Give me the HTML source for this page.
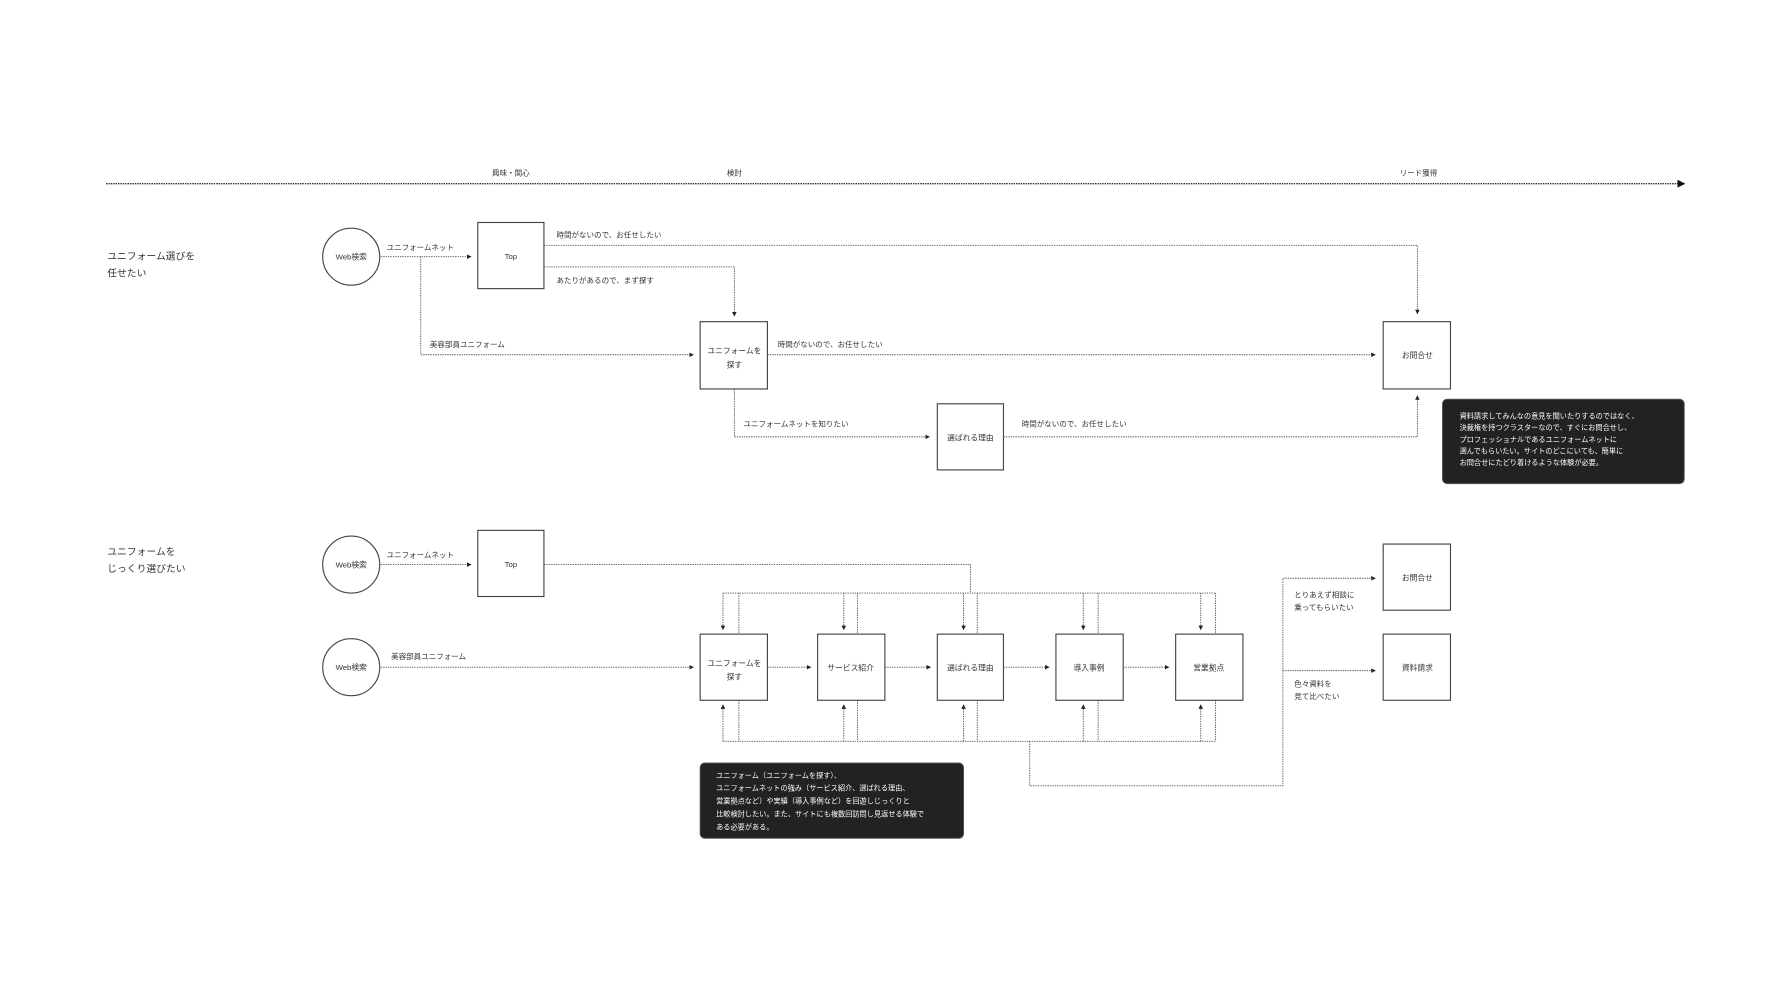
<!DOCTYPE html>
<html><head><meta charset="utf-8">
<style>
html,body{margin:0;padding:0;background:#fff;}
svg{display:block;}
text{font-family:"Liberation Sans","Noto Sans CJK JP",sans-serif;fill:#333;}
.l{font-size:6.6px;}
.b{font-size:6.8px;}
.h{font-size:8.6px;}
.w{font-size:6.3px;fill:#fff;}
.d{fill:none;stroke:#555;stroke-width:0.8;stroke-dasharray:1.2 0.9;}
.box{fill:#fff;stroke:#444;stroke-width:1;}
</style></head>
<body>
<svg width="1788" height="1006" viewBox="0 0 1568 882" xmlns="http://www.w3.org/2000/svg">
<defs>
<marker id="a" markerWidth="4" markerHeight="4" refX="3.5" refY="2" orient="auto" markerUnits="userSpaceOnUse">
<path d="M0,0 L4,2 L0,4 Z" fill="#222"/></marker>
<marker id="A" markerWidth="7" markerHeight="7" refX="6" refY="3.5" orient="auto" markerUnits="userSpaceOnUse">
<path d="M0,0 L7,3.5 L0,7 Z" fill="#111"/></marker>
</defs>

<!-- timeline -->
<line x1="93" y1="161" x2="1477" y2="161" stroke="#222" stroke-width="1.2" stroke-dasharray="1.2 0.9" marker-end="url(#A)"/>
<text class="l" x="448" y="154" text-anchor="middle">興味・関心</text>
<text class="l" x="644" y="154" text-anchor="middle">検討</text>
<text class="l" x="1244" y="154" text-anchor="middle">リード獲得</text>

<!-- Row 1 -->
<text class="h" x="94" y="227.5">ユニフォーム選びを</text>
<text class="h" x="94" y="242.5">任せたい</text>

<circle cx="308" cy="225" r="25" class="box"/>
<text class="b" x="308" y="227.5" text-anchor="middle">Web検索</text>
<text class="l" x="339" y="219">ユニフォームネット</text>
<line class="d" x1="334" y1="225" x2="413" y2="225" marker-end="url(#a)"/>

<rect x="419" y="195" width="58" height="58" class="box"/>
<text class="b" x="448" y="227" text-anchor="middle">Top</text>

<polyline class="d" points="477,215 1243,215 1243,275" marker-end="url(#a)"/>
<text class="l" x="488" y="208">時間がないので、お任せしたい</text>
<polyline class="d" points="477,234 644,234 644,277" marker-end="url(#a)"/>
<text class="l" x="488" y="248">あたりがあるので、まず探す</text>

<polyline class="d" points="369,225 369,311 608,311" marker-end="url(#a)"/>
<text class="l" x="377" y="304">美容部員ユニフォーム</text>

<rect x="614" y="282" width="59" height="59" class="box"/>
<text class="b" x="644" y="310" text-anchor="middle">ユニフォームを</text>
<text class="b" x="644" y="322" text-anchor="middle">探す</text>

<line class="d" x1="673" y1="311" x2="1206" y2="311" marker-end="url(#a)"/>
<text class="l" x="682" y="304">時間がないので、お任せしたい</text>

<rect x="1213" y="282" width="59" height="59" class="box"/>
<text class="b" x="1243" y="314" text-anchor="middle">お問合せ</text>

<polyline class="d" points="644,341 644,383 815,383" marker-end="url(#a)"/>
<text class="l" x="652" y="374">ユニフォームネットを知りたい</text>

<rect x="822" y="354" width="58" height="58" class="box"/>
<text class="b" x="851" y="386" text-anchor="middle">選ばれる理由</text>

<polyline class="d" points="880,383 1243,383 1243,347" marker-end="url(#a)"/>
<text class="l" x="896" y="374">時間がないので、お任せしたい</text>

<rect x="1265" y="350" width="212" height="74" rx="4" fill="#222" stroke="#555" stroke-width="0.8"/>
<text class="w" x="1280" y="367">資料請求してみんなの意見を聞いたりするのではなく、</text>
<text class="w" x="1280" y="377">決裁権を持つクラスターなので、すぐにお問合せし、</text>
<text class="w" x="1280" y="387.5">プロフェッショナルであるユニフォームネットに</text>
<text class="w" x="1280" y="397.5">選んでもらいたい。サイトのどこにいても、簡単に</text>
<text class="w" x="1280" y="407.5">お問合せにたどり着けるような体験が必要。</text>

<!-- Row 2 -->
<text class="h" x="94" y="486.5">ユニフォームを</text>
<text class="h" x="94" y="501.5">じっくり選びたい</text>

<circle cx="308" cy="495" r="25" class="box"/>
<text class="b" x="308" y="497.5" text-anchor="middle">Web検索</text>
<text class="l" x="339" y="489">ユニフォームネット</text>
<line class="d" x1="334" y1="495" x2="413" y2="495" marker-end="url(#a)"/>

<rect x="419" y="465" width="58" height="58" class="box"/>
<text class="b" x="448" y="497" text-anchor="middle">Top</text>
<polyline class="d" points="477,495 851,495 851,520"/>

<circle cx="308" cy="585" r="25" class="box"/>
<text class="b" x="308" y="587.5" text-anchor="middle">Web検索</text>
<text class="l" x="343" y="578">美容部員ユニフォーム</text>
<line class="d" x1="334" y1="585" x2="608" y2="585" marker-end="url(#a)"/>

<!-- buses -->
<line class="d" x1="634" y1="520" x2="1066" y2="520"/>
<line class="d" x1="634" y1="650" x2="1066" y2="650"/>

<!-- box verticals -->
<line class="d" x1="634" y1="520" x2="634" y2="552" marker-end="url(#a)"/>
<line class="d" x1="648" y1="520" x2="648" y2="556"/>
<line class="d" x1="634" y1="650" x2="634" y2="618" marker-end="url(#a)"/>
<line class="d" x1="648" y1="614" x2="648" y2="650"/>

<line class="d" x1="740" y1="520" x2="740" y2="552" marker-end="url(#a)"/>
<line class="d" x1="752" y1="520" x2="752" y2="556"/>
<line class="d" x1="740" y1="650" x2="740" y2="618" marker-end="url(#a)"/>
<line class="d" x1="752" y1="614" x2="752" y2="650"/>

<line class="d" x1="845" y1="520" x2="845" y2="552" marker-end="url(#a)"/>
<line class="d" x1="857" y1="520" x2="857" y2="556"/>
<line class="d" x1="845" y1="650" x2="845" y2="618" marker-end="url(#a)"/>
<line class="d" x1="857" y1="614" x2="857" y2="650"/>

<line class="d" x1="950" y1="520" x2="950" y2="552" marker-end="url(#a)"/>
<line class="d" x1="963" y1="520" x2="963" y2="556"/>
<line class="d" x1="950" y1="650" x2="950" y2="618" marker-end="url(#a)"/>
<line class="d" x1="963" y1="614" x2="963" y2="650"/>

<line class="d" x1="1053" y1="520" x2="1053" y2="552" marker-end="url(#a)"/>
<line class="d" x1="1066" y1="520" x2="1066" y2="556"/>
<line class="d" x1="1053" y1="650" x2="1053" y2="618" marker-end="url(#a)"/>
<line class="d" x1="1066" y1="614" x2="1066" y2="650"/>

<!-- row boxes -->
<rect x="614" y="556" width="59" height="58" class="box"/>
<text class="b" x="644" y="584" text-anchor="middle">ユニフォームを</text>
<text class="b" x="644" y="596" text-anchor="middle">探す</text>
<rect x="717" y="556" width="59" height="58" class="box"/>
<text class="b" x="746" y="588" text-anchor="middle">サービス紹介</text>
<rect x="822" y="556" width="58" height="58" class="box"/>
<text class="b" x="851" y="588" text-anchor="middle">選ばれる理由</text>
<rect x="926" y="556" width="59" height="58" class="box"/>
<text class="b" x="955" y="588" text-anchor="middle">導入事例</text>
<rect x="1031" y="556" width="59" height="58" class="box"/>
<text class="b" x="1060" y="588" text-anchor="middle">営業拠点</text>

<line class="d" x1="673" y1="585" x2="711" y2="585" marker-end="url(#a)"/>
<line class="d" x1="776" y1="585" x2="816" y2="585" marker-end="url(#a)"/>
<line class="d" x1="880" y1="585" x2="920" y2="585" marker-end="url(#a)"/>
<line class="d" x1="985" y1="585" x2="1025" y2="585" marker-end="url(#a)"/>

<!-- exit path -->
<polyline class="d" points="903,650 903,689 1125,689 1125,507 1206,507" marker-end="url(#a)"/>
<line class="d" x1="1125" y1="588" x2="1206" y2="588" marker-end="url(#a)"/>
<text class="l" x="1135" y="524">とりあえず相談に</text>
<text class="l" x="1135" y="535">乗ってもらいたい</text>
<text class="l" x="1135" y="602">色々資料を</text>
<text class="l" x="1135" y="613">見て比べたい</text>

<rect x="1213" y="477" width="59" height="58" class="box"/>
<text class="b" x="1243" y="509" text-anchor="middle">お問合せ</text>
<rect x="1213" y="556" width="59" height="58" class="box"/>
<text class="b" x="1243" y="588" text-anchor="middle">資料請求</text>

<rect x="614" y="669" width="231" height="66" rx="4" fill="#222" stroke="#555" stroke-width="0.8"/>
<text class="w" x="628" y="682">ユニフォーム（ユニフォームを探す）、</text>
<text class="w" x="628" y="693">ユニフォームネットの強み（サービス紹介、選ばれる理由、</text>
<text class="w" x="628" y="704.5">営業拠点など）や実績（導入事例など）を回遊しじっくりと</text>
<text class="w" x="628" y="716">比較検討したい。また、サイトにも複数回訪問し見返せる体験で</text>
<text class="w" x="628" y="727.5">ある必要がある。</text>
</svg>
</body></html>
